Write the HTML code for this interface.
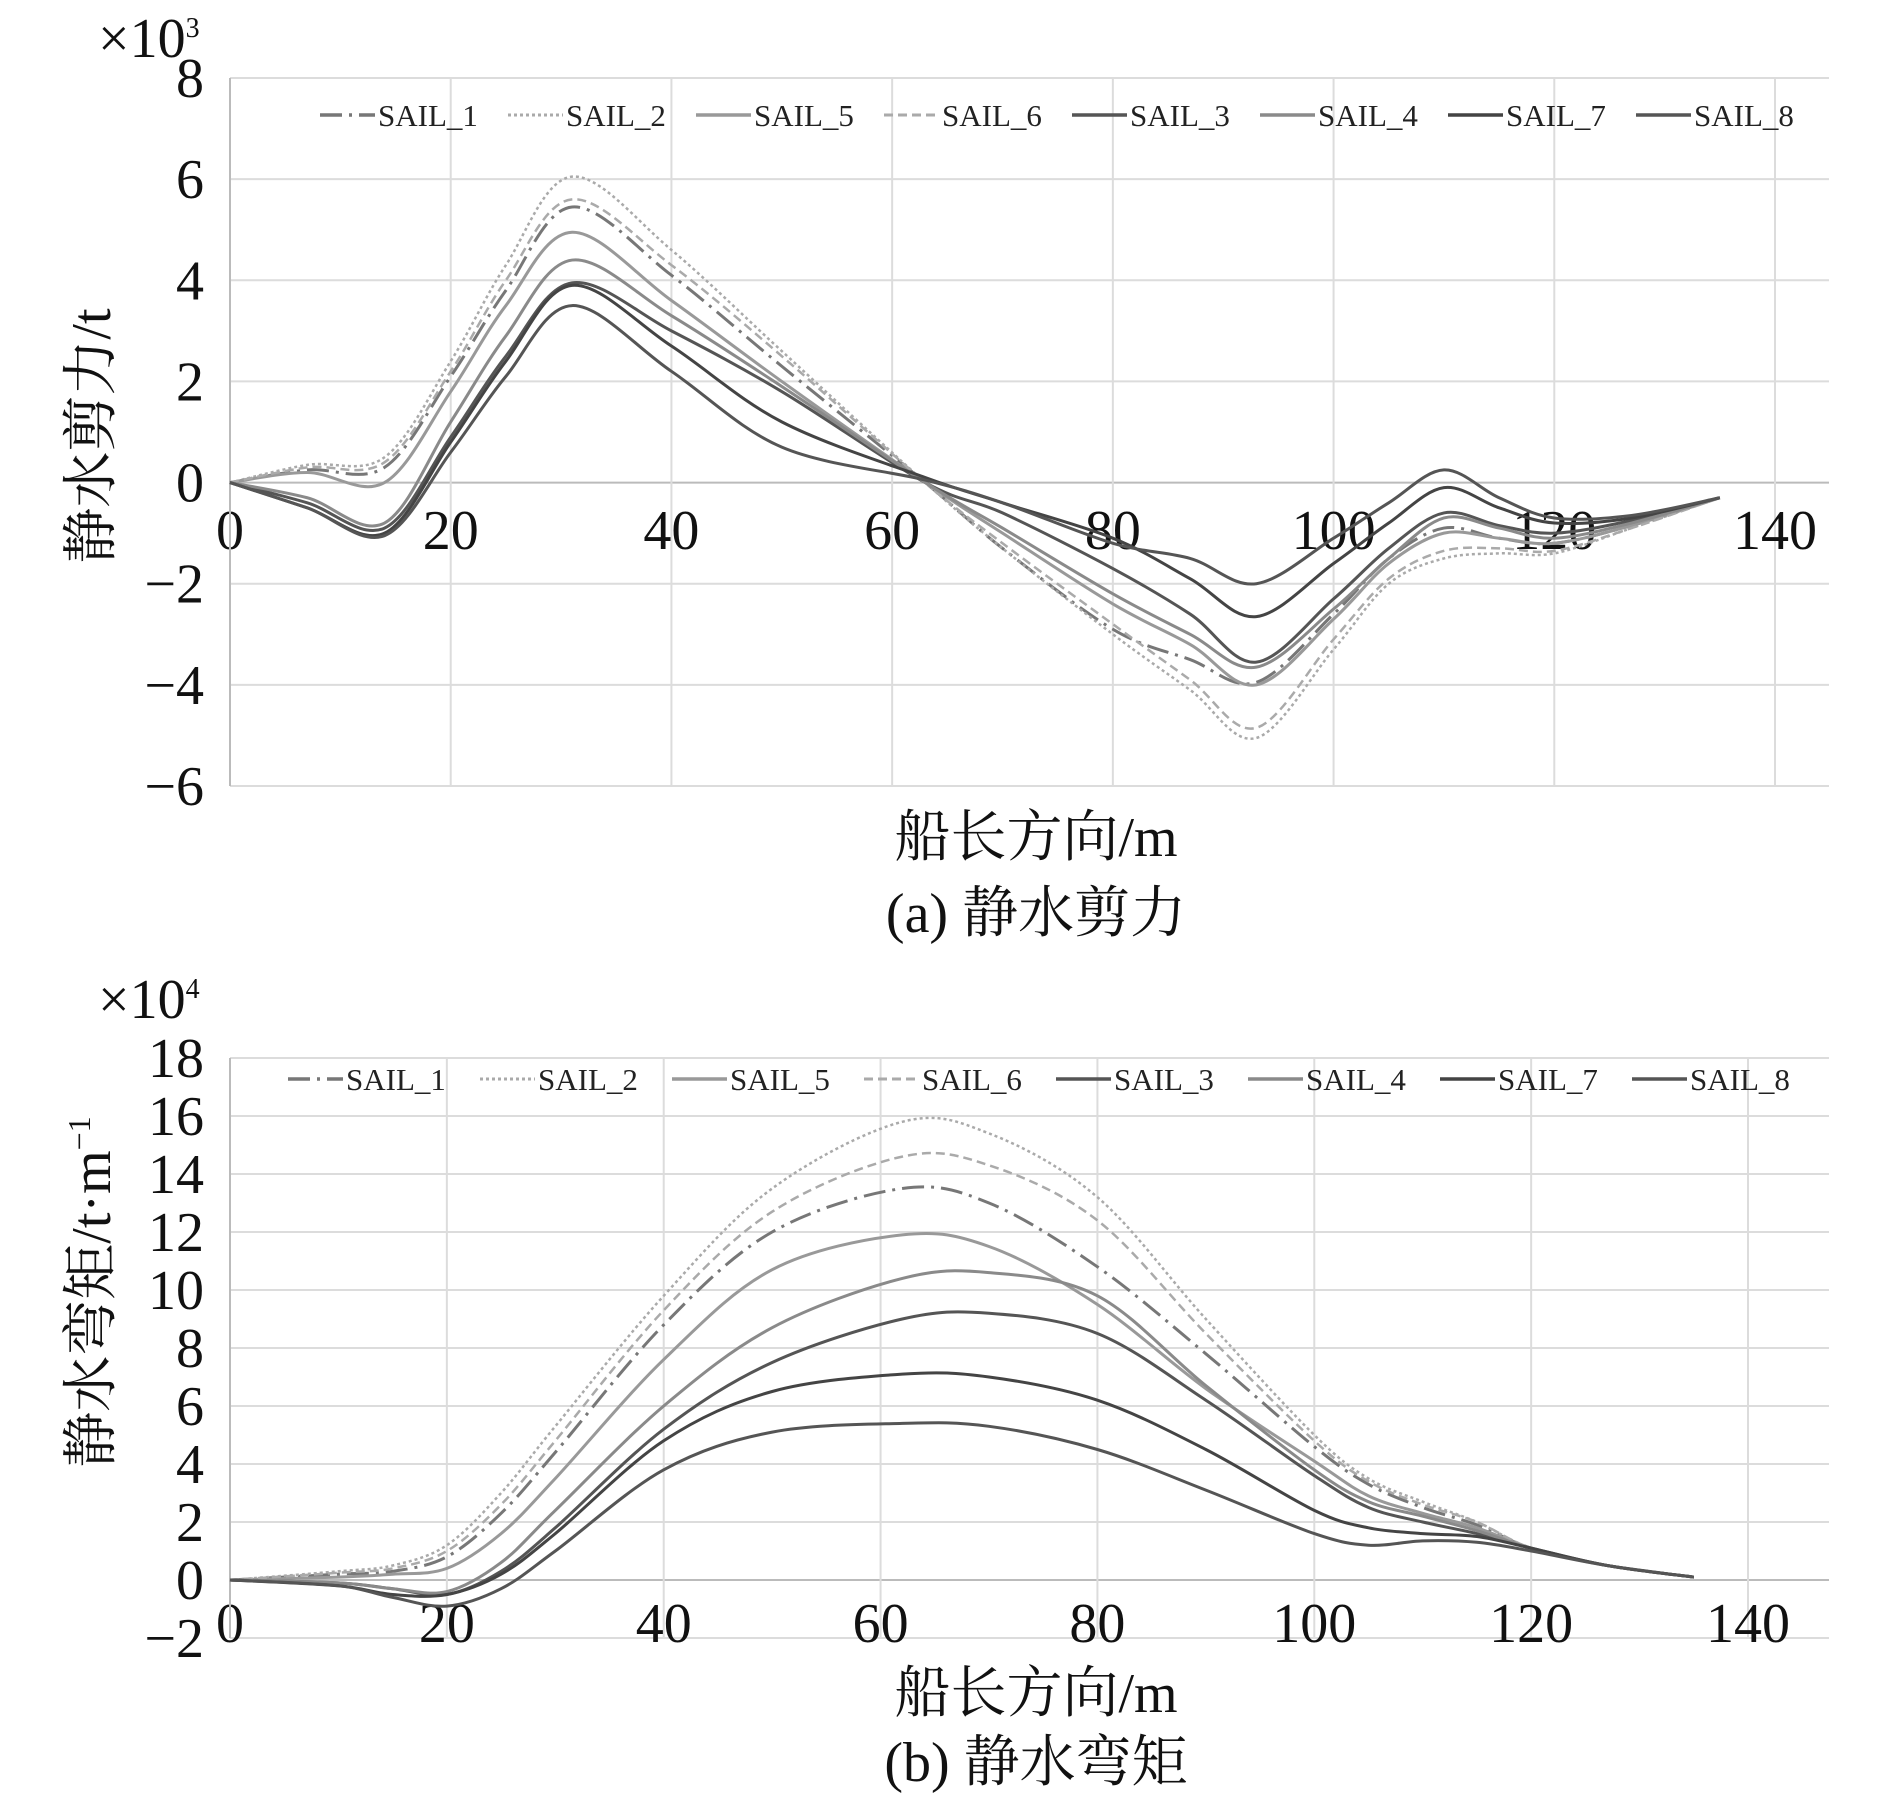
<!DOCTYPE html>
<html><head><meta charset="utf-8"><style>
html,body{margin:0;padding:0;background:#fff;}
svg{display:block;}
.tick{font-family:"Liberation Serif","Noto Serif CJK SC",serif;font-size:56px;fill:#111;}
.ttl{font-family:"Liberation Serif","Noto Serif CJK SC",serif;font-size:56px;fill:#111;}
.leg{font-family:"Liberation Serif",serif;font-size:31px;fill:#222;}
</style></head><body>
<svg id="chart" width="1890" height="1809" viewBox="0 0 1890 1809" xmlns="http://www.w3.org/2000/svg"></svg>
<script>
const seriesNames = ["SAIL_1","SAIL_2","SAIL_5","SAIL_6","SAIL_3","SAIL_4","SAIL_7","SAIL_8"];
// shear force chart (x10^3 t)
const shearX = [0,7,14,20,25,31,40,50,63,70,80,87,93,100,105,110,115,120,127,135];
const shear1 = [0,0.25,0.3,2.1,3.8,5.45,4.1,2.3,0,-1.3,-2.9,-3.5,-3.95,-2.6,-1.5,-0.9,-1.1,-1.2,-0.85,-0.3];
const shear2 = [0,0.35,0.5,2.4,4.3,6.05,4.6,2.6,0,-1.3,-3.0,-4.1,-5.05,-3.3,-2.0,-1.5,-1.4,-1.4,-0.9,-0.3];
const shear5 = [0,0.2,0.0,1.8,3.5,4.95,3.6,2.0,0,-1.0,-2.4,-3.2,-4.0,-2.7,-1.6,-1.0,-1.1,-1.2,-0.85,-0.3];
const shear6 = [0,0.3,0.4,2.2,4.0,5.6,4.3,2.5,0,-1.2,-2.8,-3.9,-4.85,-3.1,-1.9,-1.35,-1.3,-1.35,-0.9,-0.3];
const shear3 = [0,-0.4,-0.9,0.9,2.5,3.95,3.0,1.8,0,-0.6,-1.7,-2.6,-3.55,-2.3,-1.3,-0.6,-0.85,-1.0,-0.75,-0.3];
const shear4 = [0,-0.3,-0.8,1.2,2.9,4.4,3.3,1.9,0,-0.9,-2.2,-3.0,-3.65,-2.5,-1.5,-0.7,-0.9,-1.1,-0.8,-0.3];
const shear7 = [0,-0.5,-1.0,0.8,2.4,3.9,2.7,1.2,0.1,-0.4,-1.1,-1.9,-2.65,-1.6,-0.8,-0.1,-0.5,-0.8,-0.7,-0.3];
const shear8 = [0,-0.5,-1.05,0.6,2.1,3.5,2.2,0.7,0.05,-0.4,-1.2,-1.5,-2.0,-1.1,-0.4,0.25,-0.3,-0.7,-0.65,-0.3];
const shearYTicks = [8,6,4,2,0,-2,-4,-6];
const shearYLabels = ["8","6","4","2","0","\u22122","\u22124","\u22126"];
// bending moment chart (x10^4)
const momX = [0,10,15,20,25,30,40,50,62,70,80,90,100,105,110,115,120,127,135];
const mom1 = [0,0.2,0.3,0.8,2.3,4.4,8.8,12.0,13.5,13.0,10.8,7.8,4.6,3.3,2.5,1.9,1.1,0.5,0.1];
const mom2 = [0,0.3,0.5,1.2,3.0,5.3,9.8,13.5,15.8,15.4,13.2,9.0,5.0,3.5,2.7,2.0,1.1,0.5,0.1];
const mom5 = [0,0.1,0.2,0.4,1.6,3.5,7.6,10.7,11.9,11.5,9.5,6.6,4.1,2.9,2.3,1.8,1.1,0.5,0.1];
const mom6 = [0,0.25,0.4,1.0,2.6,4.8,9.3,12.7,14.6,14.3,12.4,8.5,4.8,3.4,2.6,2.0,1.1,0.5,0.1];
const mom3 = [0,-0.1,-0.3,-0.5,0.3,1.8,5.2,7.5,9.0,9.2,8.5,6.2,3.6,2.5,2.0,1.6,1.1,0.5,0.1];
const mom4 = [0,-0.1,-0.3,-0.4,0.6,2.4,6.0,8.7,10.4,10.6,9.8,6.7,3.8,2.7,2.2,1.7,1.1,0.5,0.1];
const mom7 = [0,-0.2,-0.5,-0.5,0.2,1.6,4.8,6.5,7.1,7.0,6.2,4.5,2.4,1.8,1.6,1.5,1.1,0.5,0.1];
const mom8 = [0,-0.2,-0.6,-0.9,-0.3,1.0,3.8,5.1,5.4,5.3,4.5,3.1,1.6,1.2,1.35,1.3,1.0,0.5,0.1];
const momYTicks = [18,16,14,12,10,8,6,4,2,0,-2];
const momYLabels = ["18","16","14","12","10","8","6","4","2","0","\u22122"];
const xTicks = [0,20,40,60,80,100,120,140];

const styles = [
 {c:"#777",w:3,d:"22 7 3 7"},
 {c:"#aaa",w:2.5,d:"3 3"},
 {c:"#999",w:3,d:""},
 {c:"#aaa",w:2.5,d:"9 5"},
 {c:"#555",w:3,d:""},
 {c:"#8a8a8a",w:3,d:""},
 {c:"#444",w:3,d:""},
 {c:"#555",w:3,d:""}
];
const NS="http://www.w3.org/2000/svg";
const svg=document.getElementById('chart');
function mk(tag,attrs,parent){const e=document.createElementNS(NS,tag);for(const k in attrs)e.setAttribute(k,attrs[k]);(parent||svg).appendChild(e);return e;}
function smooth(pts){let d="M"+pts[0][0]+","+pts[0][1];for(let i=0;i<pts.length-1;i++){const p0=pts[i-1]||pts[i],p1=pts[i],p2=pts[i+1],p3=pts[i+2]||p2;const t=6;d+=" C"+(p1[0]+(p2[0]-p0[0])/t)+","+(p1[1]+(p2[1]-p0[1])/t)+" "+(p2[0]-(p3[0]-p1[0])/t)+","+(p2[1]-(p3[1]-p1[1])/t)+" "+p2[0]+","+p2[1];}return d;}

function drawChart(o){
 const g=mk('g',{});
 
 
 const sx=v=>o.x0+(o.x140-o.x0)*v/140;
 const sy=v=>o.yTop+(o.yBot-o.yTop)*(o.yMax-v)/(o.yMax-o.yMin);
 o.yTicks.forEach((t,i)=>{
  const ln=mk('line',{x1:o.x0,x2:o.right,y1:sy(t),y2:sy(t),stroke:t===0?"#bbb":"#dcdcdc","stroke-width":2},g);
  
  
  const tx=mk('text',{x:o.x0-26,y:sy(t)+19,"text-anchor":"end",class:"tick"},g);
  
  
  tx.textContent=o.yLabels[i];
 });
 xTicks.forEach(t=>{
  if(t>0){const ln=mk('line',{x1:sx(t),x2:sx(t),y1:o.yTop,y2:o.yBot,stroke:"#dcdcdc","stroke-width":2},g);
  
  }
  const tx=mk('text',{x:sx(t),y:o.xLabelY,"text-anchor":"middle",class:"tick"},g);
  
  
  tx.textContent=String(t);
 });
 const ax=mk('line',{x1:o.x0,x2:o.x0,y1:o.yTop,y2:o.yBot,stroke:"#bbb","stroke-width":2},g);
 
 
 o.series.forEach((vals,i)=>{
  const pts=vals.map((v,j)=>[sx(o.xs[j]),sy(v)]);
  const p=mk('path',{d:smooth(pts),fill:"none",stroke:styles[i].c,"stroke-width":styles[i].w,"stroke-dasharray":styles[i].d},g);
  
  
 });
 seriesNames.forEach((n,i)=>{
  const lx=o.legX+i*o.legStep;
  const le=mk('g',{},g);
  
  
  mk('line',{x1:lx,x2:lx+55,y1:o.legY,y2:o.legY,stroke:styles[i].c,"stroke-width":styles[i].w+0.5,"stroke-dasharray":styles[i].d},le);
  const t=mk('text',{x:lx+58,y:o.legY+11,class:"leg"},le);
  t.textContent=n;
 });
 const m=mk('text',{x:98,y:o.multY,class:"ttl","font-size":"46"},g);
 
 
 m.innerHTML='\u00d710<tspan dy="-20" font-size="28">'+o.exp+'</tspan>';
 const yt=mk('text',{x:0,y:0,"text-anchor":"middle",class:"ttl",transform:"translate(110,"+o.yTitleY+") rotate(-90)"},g);
 
 
 yt.innerHTML=o.yTitle;
 const xt=mk('text',{x:1036,y:o.xTitleY,"text-anchor":"middle",class:"ttl"},g);
 
 
 xt.textContent="船长方向/m";
 const cp=mk('text',{x:1036,y:o.capY,"text-anchor":"middle",class:"ttl"},g);
 
 
 cp.textContent=o.caption;
}

drawChart({name:"shear-force-chart",x0:230,x140:1775,right:1829,yTop:78,yBot:786,yMax:8,yMin:-6,
 yTicks:shearYTicks,yLabels:shearYLabels,xs:shearX,
 series:[shear1,shear2,shear5,shear6,shear3,shear4,shear7,shear8],
 xLabelY:549,legX:320,legY:115,legStep:188,multY:57,exp:"3",
 yTitle:"静水剪力/t",yTitleY:436,xTitleY:856,capY:932,caption:"(a) 静水剪力"});
drawChart({name:"bending-moment-chart",x0:230,x140:1748,right:1829,yTop:1058,yBot:1638,yMax:18,yMin:-2,
 yTicks:momYTicks,yLabels:momYLabels,xs:momX,
 series:[mom1,mom2,mom5,mom6,mom3,mom4,mom7,mom8],
 xLabelY:1642,legX:288,legY:1079,legStep:192,multY:1018,exp:"4",
 yTitle:'静水弯矩/t·m<tspan dy="-20" font-size="32">−1</tspan>',yTitleY:1292,xTitleY:1712,capY:1781,caption:"(b) 静水弯矩"});
</script>
</body></html>
